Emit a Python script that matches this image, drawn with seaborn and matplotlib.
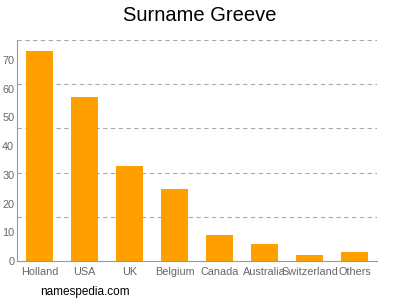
import matplotlib
matplotlib.use("Agg")
import matplotlib.pyplot as plt
import seaborn as sns
import numpy as np

countries = ["Holland", "USA", "UK", "Belgium", "Canada", "Australia", "Switzerland", "Others"]
counts = [73, 57, 33, 25, 9, 6, 2, 3]
yticks = [0, 10, 20, 30, 40, 50, 60, 70]

sns.set_style("white")
plt.rcParams['font.family'] = ['Liberation Sans', 'DejaVu Sans']

fig = plt.figure(figsize=(4, 3), dpi=100)
ax = fig.add_axes([0.0425, 0.13, 0.9, 0.7367])
sns.barplot(x=countries, y=counts, color="#FFA000", saturation=1, width=0.62,
            linewidth=0, ax=ax)

ymax = 76.9
ax.set_ylim(0, ymax)
ax.set_xlim(-0.5, len(countries) - 0.5)
ax.set_yticks(yticks)
ax.set_yticks(np.linspace(0, ymax, 6)[1:], minor=True)
ax.grid(False)
ax.yaxis.grid(True, which="minor", linestyle=(0, (4, 3)), color="#aaaaaa", linewidth=0.8)
ax.set_axisbelow(True)

for s in ["top", "right"]:
    ax.spines[s].set_visible(False)
for s in ["left", "bottom"]:
    ax.spines[s].set_color("#999999")
    ax.spines[s].set_linewidth(0.8)

ax.tick_params(axis="y", which="both", length=0, labelsize=7.8, labelcolor="#666666", pad=2)
ax.tick_params(axis="x", length=3, color="#999999", labelsize=7.8, labelcolor="#666666", pad=1)
ax.set_xlabel("")
ax.set_ylabel("")

fig.text(0.5, 0.948, "Surname Greeve", ha="center", va="center", fontsize=14.5, color="#000000")
fig.text(0.1, 0.027, "namespedia.com", ha="left", va="center", fontsize=8.5, color="#000000")

fig.savefig("out.png", dpi=100)
